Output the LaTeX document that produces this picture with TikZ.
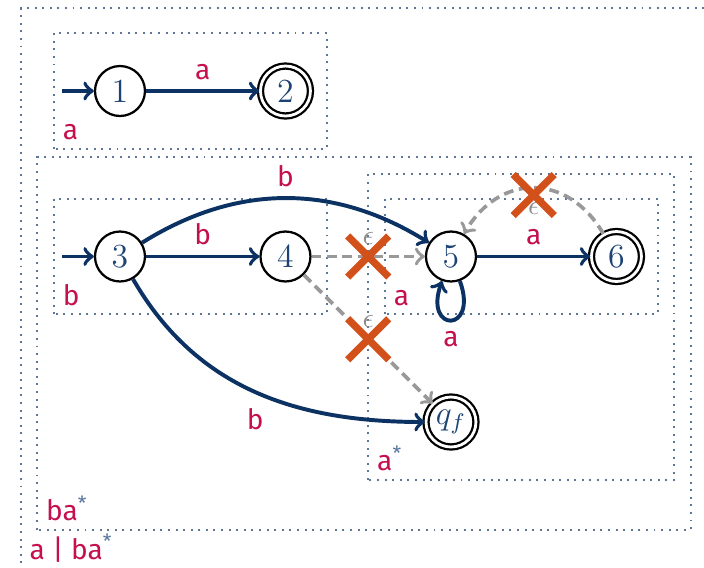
\documentclass[tikz,border=0pt]{standalone}
\usepackage{amsmath, amssymb}
\usepackage{fontspec}
\newfontfamily\lblfont{Fira Sans}
\usetikzlibrary{shapes.misc}
\definecolor{edgeblue}{HTML}{0B3262}
\definecolor{numblue}{HTML}{1D4374}
\definecolor{lblred}{HTML}{C4104F}
\definecolor{boxgray}{HTML}{5E7698}
\definecolor{crossred}{HTML}{D2501A}
\definecolor{starblue}{HTML}{5575A0}
\newcommand{\rstar}{\textsuperscript{\color{starblue}*}}

\begin{document}
\begin{tikzpicture}[x=2.07cm, y=2.07cm,
        stnode/.style={circle, draw=black, line width=.8pt, minimum size=.625cm, inner sep=0pt, text=numblue, font=\large},
        acc/.style={stnode, double, double distance=1pt},
        trans/.style={->, draw=edgeblue, line width=1.4pt},
        eps/.style={->, draw=black!40, line width=1.3pt, dash pattern=on 3.5pt off 2pt},
        lbl/.style={font=\lblfont, text=lblred},
        epslbl/.style={text=black!45, inner sep=3.5pt},
        cross/.style={cross out, solid, draw=crossred, line width=2.6pt, minimum size=12pt, inner sep=0pt},
        region/.style={draw=boxgray, dotted, line width=.7pt},
        reglbl/.style={lbl, anchor=south west, inner sep=3pt}]
    \useasboundingbox (-0.725,-0.882) rectangle (3.529,2.550);
    \draw[region] (-0.6,-0.9) rectangle (3.6,2.5);
    \draw[region] (-0.5,-0.65) rectangle (3.45,1.6);
    \draw[region] (1.5,-0.35) rectangle (3.35,1.5);
    \draw[region] (1.6,0.65) rectangle (3.25,1.35);
    \draw[region] (-0.4,0.65) rectangle (1.25,1.35);
    \draw[region] (-0.4,1.65) rectangle (1.25,2.35);
    \node[reglbl] (rall) at (-0.6,-0.9) {a | ba\rstar};
    \node[reglbl] (rba) at (-0.5,-0.65) {ba\rstar};
    \node[reglbl] (rast) at (1.5,-0.35) {a\rstar};
    \node[reglbl] (ra5) at (1.6,0.65) {a};
    \node[reglbl] (rb) at (-0.4,0.65) {b};
    \node[reglbl] (ra1) at (-0.4,1.65) {a};

    \node[stnode] (1) at (0,2) {1};
    \node[acc] (2) at (1,2) {2};
    \node[stnode] (3) at (0,1) {3};
    \node[stnode] (4) at (1,1) {4};
    \node[stnode] (5) at (2,1) {5};
    \node[acc] (6) at (3,1) {6};
    \node[acc] (qf) at (2,0) {$q_f$};
    \coordinate (i1) at (-0.35,2);
    \coordinate (i3) at (-0.35,1);

    \draw[trans] (i1) -- (1);
    \draw[trans] (1) -- node[lbl, above] (l12) {a} (2);
    \draw[trans] (i3) -- (3);
    \draw[trans] (3) -- node[lbl, above] (l34) {b} (4);
    \draw[trans] (3) to[bend left=32] node[lbl, above] (l35) {b} (5);
    \draw[trans] (3) to[out=-60, in=180] node[lbl, below=2pt] (l3f) {b} (qf);
    \draw[trans] (5) -- node[lbl, above] (l56) {a} (6);
    \draw[trans] (5) to[out=-70, in=-110, looseness=8, min distance=5.5mm] node[lbl, below] (l55) {a} (5);

    \draw[eps] (4) -- node[epslbl, above] (e45) {$\epsilon$} node[cross] (x45) {} (5);
    \draw[eps] (4) -- node[epslbl, above] (e4f) {$\epsilon$} node[cross] (x4f) {} (qf);
    \draw[eps] (6) to[bend right=60, looseness=1.3] node[epslbl, below=1pt] (e65) {$\epsilon$} node[cross, yshift=-2.5pt] (x65) {} (5);
\end{tikzpicture}
\end{document}
